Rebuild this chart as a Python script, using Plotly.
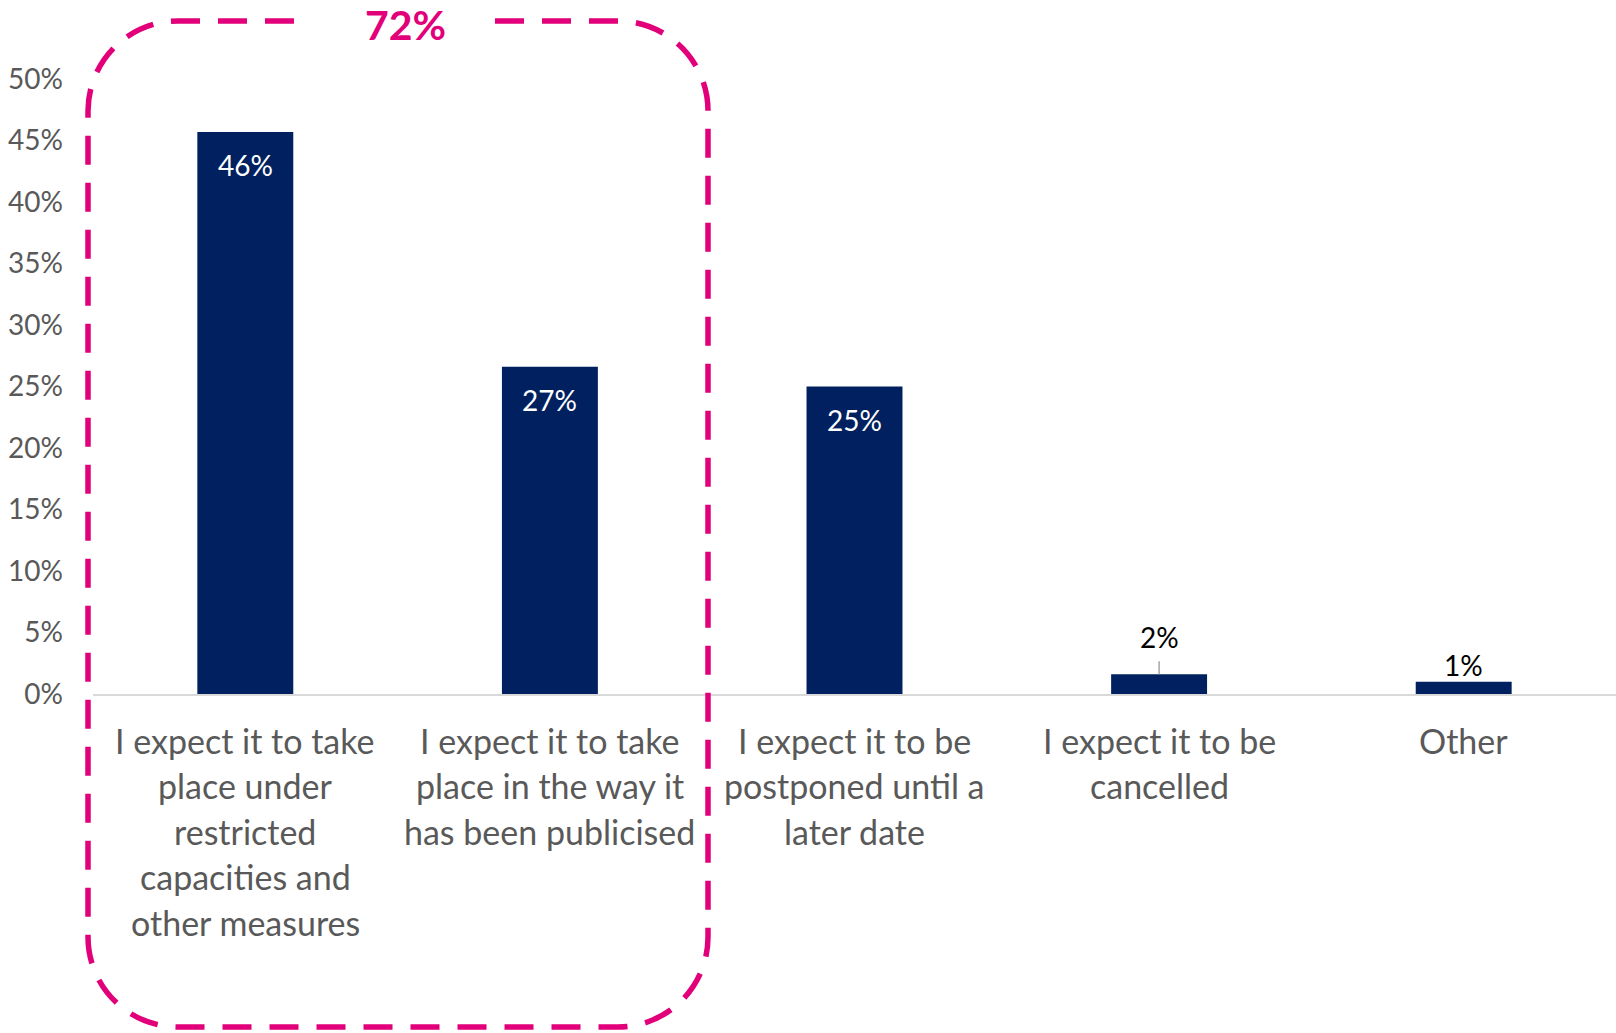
import plotly.graph_objects as go

categories = [
    "I expect it to take<br>place under<br>restricted<br>capacities and<br>other measures",
    "I expect it to take<br>place in the way it<br>has been publicised",
    "I expect it to be<br>postponed until a<br>later date",
    "I expect it to be<br>cancelled",
    "Other",
]
values = [0.457, 0.266, 0.250, 0.016, 0.010]
label_inside = [True, True, True, False, False]
label_shift = [-33, -33, -33, 37, 17]
group_total = "72%"
ytick_vals = [i * 0.05 for i in range(11)]

OFF = 0  # body margin removed by post_script
W, H = 1616 - OFF, 1033 - OFF
L, R, T, B = 93, 0, 79, 339
FONT = "Lato"
NAVY = "#002060"
PINK = "#E2007A"
GREY = "#595959"

x_idx = list(range(len(categories)))

fig = go.Figure()
fig.add_trace(go.Bar(
    x=x_idx, y=values, marker=dict(color=NAVY, line=dict(width=0)),
    hoverinfo="skip", showlegend=False,
))

annotations = []
for i, (v, ins, sh) in enumerate(zip(values, label_inside, label_shift)):
    annotations.append(dict(
        x=i, y=v, xref="x", yref="y", text=f"{v:.0%}", showarrow=False,
        yanchor="middle", yshift=sh,
        font=dict(family=FONT, size=28, color="white" if ins else "#000000"),
    ))

# category labels, one annotation per line
for i, cat in enumerate(categories):
    for j, line in enumerate(cat.split("<br>")):
        annotations.append(dict(
            x=i, y=0, xref="x", yref="paper", text=line, showarrow=False,
            yanchor="middle", xanchor="center", yshift=-46 - j * 45.5,
            font=dict(family=FONT, size=34, color=GREY),
        ))

pw = W - L - R
ph = H - T - B
def px(x):
    return (x - OFF - L) / pw
def py(y):
    return (T + ph - (y - OFF)) / ph

# dashed rounded box around first two categories (page pixel positions)
x0, x1, top, bot = 88, 708, 21, 1027
gl, gr = 309, 495
r = 90
k = 0.5523
def P(x, y):
    return f"{px(x):.5f},{py(y):.5f}"
path = (
    f"M {P(gr, top)} L {P(x1 - r, top)} "
    f"C {P(x1 - r + k * r, top)} {P(x1, top + r - k * r)} {P(x1, top + r)} "
    f"L {P(x1, bot - r)} "
    f"C {P(x1, bot - r + k * r)} {P(x1 - r + k * r, bot)} {P(x1 - r, bot)} "
    f"L {P(x0 + r, bot)} "
    f"C {P(x0 + r - k * r, bot)} {P(x0, bot - r + k * r)} {P(x0, bot - r)} "
    f"L {P(x0, top + r)} "
    f"C {P(x0, top + r - k * r)} {P(x0 + r - k * r, top)} {P(x0 + r, top)} "
    f"L {P(gl, top)}"
)
shapes = [dict(
    type="path", xref="paper", yref="paper", path=path,
    line=dict(color=PINK, width=5.5, dash="29px,18px"), layer="above",
)]
# leader line for the moved "2%" label
shapes.append(dict(
    type="line", xref="x", yref="y", x0=3, x1=3, ysizemode="pixel",
    yanchor=values[3], y0=0, y1=13, line=dict(color="#A6A6A6", width=1.5),
))

annotations.append(dict(
    x=px(405), y=py(25), xref="paper", yref="paper", text=f"<b>{group_total}</b>",
    showarrow=False, xanchor="center", yanchor="middle", borderpad=0,
    font=dict(family=FONT, size=41, color=PINK),
))

fig.update_layout(
    width=W, height=H, margin=dict(l=L, r=R, t=T, b=B, autoexpand=False),
    plot_bgcolor="white", paper_bgcolor="white",
    bargap=0.685, showlegend=False,
    xaxis=dict(range=[-0.5, 4.5], showticklabels=False, ticks="", showgrid=False,
               zeroline=False, showline=True, linecolor="#D9D9D9", linewidth=2,
               fixedrange=True),
    yaxis=dict(range=[0, 0.5], tickvals=ytick_vals, tickformat=".0%", showgrid=False,
               zeroline=False, showline=False, ticks="", ticklabelstandoff=29,
               tickfont=dict(family=FONT, size=28, color=GREY), fixedrange=True),
    annotations=annotations, shapes=shapes,
)

fig.write_html(
    "out.html",
    config={"displayModeBar": False},
    post_script="document.body.style.margin='0';document.body.style.overflow='hidden';",
)
